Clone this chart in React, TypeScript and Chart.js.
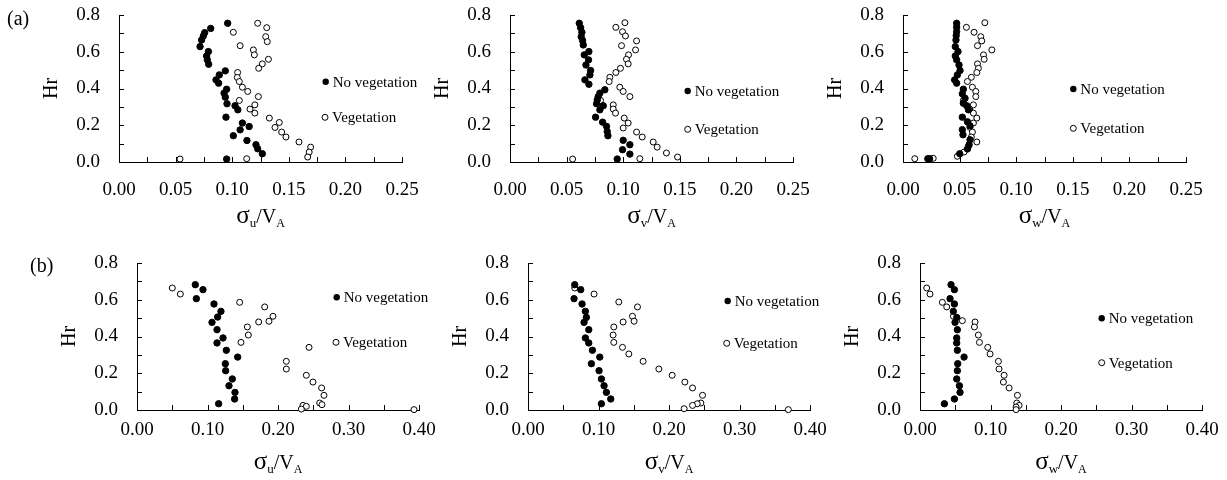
import React, { useEffect, useRef } from "react";
import { Chart, registerables } from "chart.js";

Chart.register(...registerables);

type Pt = [number, number];

// ---------- data (x = sigma/VA, y = Hr) ----------
const noVegU_a: Pt[] = [[0.096,0.755],[0.081,0.727],[0.0757,0.704],[0.0745,0.686],[0.073,0.664],[0.0716,0.628],[0.079,0.601],[0.0774,0.577],[0.078,0.556],[0.0792,0.532],[0.0939,0.496],[0.0886,0.474],[0.0857,0.447],[0.088,0.429],[0.0951,0.396],[0.0928,0.375],[0.0939,0.353],[0.0954,0.317],[0.1025,0.306],[0.105,0.284],[0.0945,0.244],[0.109,0.212],[0.115,0.193],[0.107,0.175],[0.101,0.143],[0.113,0.117],[0.121,0.094],[0.1225,0.072],[0.1266,0.045],[0.0951,0.016]];
const vegU_a: Pt[] = [[0.1225,0.755],[0.1305,0.731],[0.101,0.706],[0.1296,0.682],[0.131,0.655],[0.107,0.633],[0.1187,0.61],[0.1196,0.583],[0.132,0.559],[0.1266,0.534],[0.1234,0.51],[0.1048,0.487],[0.1045,0.46],[0.1063,0.438],[0.109,0.407],[0.1137,0.384],[0.1231,0.356],[0.1063,0.335],[0.12,0.311],[0.1157,0.288],[0.12,0.266],[0.1328,0.239],[0.1416,0.215],[0.1378,0.188],[0.1437,0.163],[0.1475,0.136],[0.159,0.109],[0.1693,0.081],[0.168,0.054],[0.1667,0.027],[0.0539,0.016],[0.1128,0.018]];

const noVegV_a: Pt[] = [[0.0612,0.755],[0.0624,0.731],[0.0635,0.706],[0.0629,0.682],[0.0641,0.661],[0.0647,0.637],[0.0697,0.601],[0.0656,0.583],[0.0694,0.556],[0.0671,0.528],[0.0712,0.498],[0.0706,0.474],[0.0662,0.447],[0.0697,0.423],[0.0838,0.393],[0.0794,0.375],[0.0779,0.356],[0.0771,0.338],[0.0765,0.317],[0.0824,0.306],[0.0794,0.284],[0.0756,0.244],[0.0818,0.217],[0.0853,0.194],[0.0859,0.166],[0.0865,0.143],[0.1,0.118],[0.1059,0.094],[0.0994,0.067],[0.1059,0.043],[0.0947,0.016]];
const vegV_a: Pt[] = [[0.1015,0.758],[0.0935,0.733],[0.0994,0.709],[0.102,0.686],[0.1118,0.659],[0.0985,0.633],[0.1109,0.61],[0.1047,0.583],[0.1029,0.559],[0.1044,0.534],[0.0976,0.51],[0.0935,0.487],[0.0882,0.461],[0.0876,0.438],[0.097,0.407],[0.1,0.384],[0.1059,0.356],[0.08,0.335],[0.0912,0.311],[0.0912,0.288],[0.0932,0.266],[0.1009,0.239],[0.1044,0.212],[0.1,0.185],[0.1118,0.163],[0.1168,0.136],[0.1265,0.109],[0.13,0.081],[0.1382,0.049],[0.148,0.027],[0.0553,0.016],[0.1147,0.018]];

const noVegW_a: Pt[] = [[0.0474,0.755],[0.0474,0.733],[0.0474,0.709],[0.047,0.688],[0.0468,0.664],[0.0462,0.628],[0.0486,0.601],[0.0462,0.577],[0.0474,0.556],[0.0495,0.528],[0.0504,0.498],[0.048,0.474],[0.0456,0.447],[0.0474,0.429],[0.0533,0.396],[0.0524,0.371],[0.0548,0.347],[0.0533,0.32],[0.0563,0.306],[0.0578,0.284],[0.0524,0.244],[0.0569,0.219],[0.0592,0.197],[0.0524,0.176],[0.053,0.148],[0.0592,0.121],[0.0584,0.094],[0.0569,0.071],[0.0501,0.045],[0.0219,0.018],[0.0235,0.018]];
const vegW_a: Pt[] = [[0.0723,0.758],[0.056,0.733],[0.0628,0.706],[0.0687,0.682],[0.0696,0.659],[0.0658,0.633],[0.0785,0.61],[0.0711,0.583],[0.0717,0.559],[0.0658,0.534],[0.0666,0.51],[0.0652,0.487],[0.0604,0.461],[0.0569,0.438],[0.0613,0.407],[0.0643,0.384],[0.0643,0.356],[0.0533,0.335],[0.0622,0.311],[0.0589,0.288],[0.0622,0.266],[0.0652,0.239],[0.0622,0.212],[0.0592,0.188],[0.0613,0.163],[0.0604,0.136],[0.0652,0.109],[0.0578,0.085],[0.0539,0.054],[0.048,0.031],[0.0104,0.018],[0.0267,0.02]];

const noVegU_b: Pt[] = [[0.0827,0.682],[0.0936,0.655],[0.0842,0.606],[0.1092,0.577],[0.1191,0.537],[0.1144,0.506],[0.1064,0.477],[0.1135,0.437],[0.122,0.392],[0.1135,0.365],[0.1267,0.325],[0.1428,0.288],[0.1253,0.252],[0.1258,0.214],[0.1352,0.169],[0.1305,0.132],[0.139,0.096],[0.1385,0.06],[0.1158,0.034]];
const vegU_b: Pt[] = [[0.0501,0.664],[0.0615,0.631],[0.1456,0.586],[0.1811,0.561],[0.1929,0.51],[0.1726,0.479],[0.1872,0.483],[0.1565,0.452],[0.1579,0.408],[0.1475,0.368],[0.244,0.341],[0.2118,0.265],[0.2118,0.223],[0.2402,0.189],[0.2496,0.152],[0.2619,0.12],[0.2652,0.08],[0.2591,0.038],[0.2624,0.029],[0.2355,0.025],[0.2402,0.02],[0.2331,0.005],[0.3929,0.002]];

const noVegV_b: Pt[] = [[0.0663,0.682],[0.0748,0.655],[0.0653,0.606],[0.0767,0.577],[0.0814,0.537],[0.0828,0.504],[0.0795,0.477],[0.0862,0.437],[0.0814,0.392],[0.0862,0.365],[0.0914,0.325],[0.1018,0.288],[0.0899,0.252],[0.1008,0.214],[0.1041,0.169],[0.1079,0.132],[0.1112,0.096],[0.1174,0.06],[0.1041,0.034]];
const vegV_b: Pt[] = [[0.0663,0.664],[0.0937,0.631],[0.1288,0.588],[0.1553,0.561],[0.1482,0.51],[0.1349,0.479],[0.1505,0.483],[0.1217,0.452],[0.1207,0.408],[0.1217,0.368],[0.134,0.341],[0.143,0.305],[0.1633,0.265],[0.1856,0.223],[0.2045,0.189],[0.2225,0.152],[0.2334,0.12],[0.2476,0.08],[0.2452,0.038],[0.24,0.034],[0.2334,0.025],[0.2215,0.007],[0.3692,0.002]];

const noVegW_b: Pt[] = [[0.044,0.682],[0.0488,0.655],[0.0426,0.606],[0.0488,0.577],[0.0473,0.537],[0.0521,0.504],[0.0497,0.477],[0.053,0.437],[0.0521,0.392],[0.0521,0.365],[0.053,0.325],[0.0625,0.288],[0.0535,0.252],[0.053,0.214],[0.0521,0.169],[0.0559,0.132],[0.0568,0.096],[0.0488,0.06],[0.0346,0.034]];
const vegW_b: Pt[] = [[0.0095,0.664],[0.0142,0.631],[0.0317,0.586],[0.0379,0.561],[0.0473,0.51],[0.0601,0.486],[0.0781,0.479],[0.0772,0.452],[0.0828,0.408],[0.0843,0.368],[0.0961,0.341],[0.0994,0.305],[0.1112,0.265],[0.1121,0.223],[0.1193,0.189],[0.1183,0.152],[0.1264,0.12],[0.1382,0.08],[0.1373,0.038],[0.1406,0.025],[0.1363,0.016],[0.1363,0.002]];

// ---------- labels ----------
const seriesLabels = ["No vegetation", "Vegetation"];
const yTickLabels = ["0.0", "0.2", "0.4", "0.6", "0.8"];
const xTickLabelsA = ["0.00", "0.05", "0.10", "0.15", "0.20", "0.25"];
const xTickLabelsB = ["0.00", "0.10", "0.20", "0.30", "0.40"];
const components = ["u", "v", "w"];

const FONT = '"Liberation Serif", "Times New Roman", serif';
const AXIS_W = 110;
const TOP_PAD = 15;

type Panel = {
  left: number; top: number; w: number; h: number;
  xMax: number; xStep: number; xLabelStep: number; xLabels: string[];
  comp: string; noVeg: Pt[]; veg: Pt[];
  legend: [number, number, number, number];
  tickPad: number; xH: number; titleOff: number; rightPad: number;
};

const rowA = { top: 15, h: 147, xMax: 0.25, xStep: 0.025, xLabelStep: 0.05, xLabels: xTickLabelsA, tickPad: 17, xH: 80, titleOff: 61 };
const rowB = { top: 263, h: 147, xMax: 0.4, xStep: 0.05, xLabelStep: 0.1, xLabels: xTickLabelsB, tickPad: 9, xH: 65, titleOff: 59 };

const panels: Panel[] = [
  { ...rowA, left: 119, w: 283, comp: components[0], noVeg: noVegU_a, veg: vegU_a, legend: [206.7, 66.7, 206, 102.3], rightPad: 40 },
  { ...rowA, left: 510, w: 283, comp: components[1], noVeg: noVegV_a, veg: vegV_a, legend: [177.7, 76, 177.7, 114.3], rightPad: 40 },
  { ...rowA, left: 903, w: 283, comp: components[2], noVeg: noVegW_a, veg: vegW_a, legend: [170.3, 74, 170.3, 113.3], rightPad: 30 },
  { ...rowB, left: 137, w: 282, comp: components[0], noVeg: noVegU_b, veg: vegU_b, legend: [199.7, 34.3, 199, 79.3], rightPad: 40 },
  { ...rowB, left: 528, w: 282, comp: components[1], noVeg: noVegV_b, veg: vegV_b, legend: [199.7, 38, 198.7, 80.3], rightPad: 40 },
  { ...rowB, left: 920, w: 282, comp: components[2], noVeg: noVegW_b, veg: vegW_b, legend: [181.7, 55.3, 181.7, 99.7], rightPad: 25 },
];

function labelFor(v: number, step: number, labels: string[]): string {
  const i = Math.round(v / step);
  if (Math.abs(v - i * step) > 1e-6) return "";
  return labels[i] ?? "";
}

function PanelChart({ p }: { p: Panel }) {
  const ref = useRef<HTMLCanvasElement | null>(null);
  const width = AXIS_W + p.w + p.rightPad;
  const height = TOP_PAD + p.h + p.xH;

  useEffect(() => {
    if (!ref.current) return;
    const decor = {
      id: "decor",
      afterDraw(chart: any) {
        const { ctx, chartArea: a } = chart;
        const xs = chart.scales.x;
        const ys = chart.scales.y;
        ctx.save();
        ctx.strokeStyle = "#000";
        ctx.lineWidth = 1;
        ctx.beginPath();
        xs.ticks.forEach((t: any) => {
          const px = Math.round(xs.getPixelForValue(t.value)) + 0.5;
          ctx.moveTo(px, a.bottom);
          ctx.lineTo(px, a.bottom - 5);
        });
        ys.ticks.forEach((t: any) => {
          const py = Math.round(ys.getPixelForValue(t.value)) + 0.5;
          ctx.moveTo(a.left, py);
          ctx.lineTo(a.left + 5, py);
        });
        ctx.stroke();

        // legend
        const [lx1, ly1, lx2, ly2] = p.legend;
        ctx.font = `15px ${FONT}`;
        ctx.textBaseline = "middle";
        ctx.textAlign = "left";
        ctx.fillStyle = "#000";
        ctx.beginPath();
        ctx.arc(a.left + lx1, a.top + ly1, 3.2, 0, Math.PI * 2);
        ctx.fill();
        ctx.fillText(seriesLabels[0], a.left + lx1 + 7, a.top + ly1 + 1);
        ctx.beginPath();
        ctx.arc(a.left + lx2, a.top + ly2, 3, 0, Math.PI * 2);
        ctx.fillStyle = "#fff";
        ctx.fill();
        ctx.stroke();
        ctx.fillStyle = "#000";
        ctx.fillText(seriesLabels[1], a.left + lx2 + 7, a.top + ly2 + 1);

        // x-axis title with subscripts
        const parts = [
          { t: "\u03c3", size: 25, dy: 0 },
          { t: p.comp, size: 13, dy: 4 },
          { t: "/V", size: 20, dy: 0 },
          { t: "A", size: 12, dy: 4 },
        ];
        ctx.textBaseline = "alphabetic";
        let total = 0;
        const widths = parts.map((pt) => {
          ctx.font = `${pt.size}px ${FONT}`;
          const w = ctx.measureText(pt.t).width;
          total += w;
          return w;
        });
        let x = (a.left + a.right) / 2 - total / 2;
        const base = a.bottom + p.titleOff;
        parts.forEach((pt, i) => {
          ctx.font = `${pt.size}px ${FONT}`;
          ctx.fillText(pt.t, x, base + pt.dy);
          x += widths[i];
        });
        ctx.restore();
      },
    };

    const chart = new Chart(ref.current, {
      type: "scatter",
      data: {
        datasets: [
          {
            label: seriesLabels[0],
            data: p.noVeg.map(([x, y]) => ({ x, y })),
            pointRadius: 3.2,
            pointBackgroundColor: "#000",
            pointBorderColor: "#000",
            pointBorderWidth: 1,
            clip: false as any,
          },
          {
            label: seriesLabels[1],
            data: p.veg.map(([x, y]) => ({ x, y })),
            pointRadius: 3,
            pointBackgroundColor: "#fff",
            pointBorderColor: "#000",
            pointBorderWidth: 1,
            clip: false as any,
          },
        ],
      },
      options: {
        responsive: false,
        animation: false,
        layout: { padding: { left: 0, top: TOP_PAD, right: p.rightPad, bottom: 0 } },
        plugins: { legend: { display: false }, tooltip: { enabled: false } },
        scales: {
          x: {
            type: "linear",
            min: 0,
            max: p.xMax,
            grid: { display: false, drawTicks: true, tickLength: p.tickPad },
            border: { display: true, color: "#000", width: 1 },
            ticks: {
              stepSize: p.xStep,
              autoSkip: false,
              maxRotation: 0,
              padding: 0,
              color: "#000",
              font: { family: FONT, size: 19 },
              callback: (v: any) => labelFor(Number(v), p.xLabelStep, p.xLabels),
            },
            afterFit: (s: any) => { s.height = p.xH; },
          },
          y: {
            type: "linear",
            min: 0,
            max: 0.8,
            grid: { display: false, drawTicks: true, tickLength: 19 },
            border: { display: true, color: "#000", width: 1 },
            ticks: {
              stepSize: 0.1,
              autoSkip: false,
              padding: 0,
              color: "#000",
              font: { family: FONT, size: 19 },
              callback: (v: any) => labelFor(Number(v), 0.2, yTickLabels),
            },
            title: {
              display: true,
              text: "Hr",
              color: "#000",
              font: { family: FONT, size: 20 },
              padding: { top: 31, bottom: 0 },
            },
            afterFit: (s: any) => { s.width = AXIS_W; },
          },
        },
      },
      plugins: [decor],
    });
    return () => chart.destroy();
  }, [p]);

  return (
    <canvas
      ref={ref}
      width={width}
      height={height}
      style={{ position: "absolute", left: p.left - AXIS_W, top: p.top - TOP_PAD, width, height, display: "block" }}
    />
  );
}

export default function App() {
  const tag: React.CSSProperties = { position: "absolute", fontFamily: FONT, fontSize: 20, lineHeight: "20px", color: "#000" };
  return (
    <div style={{ position: "absolute", left: 0, top: 0, width: 1227, height: 480, overflow: "hidden", background: "#fff" }}>
      {panels.map((p, i) => (
        <PanelChart key={i} p={p} />
      ))}
      <span style={{ ...tag, left: 7, top: 8 }}>(a)</span>
      <span style={{ ...tag, left: 30, top: 255 }}>(b)</span>
    </div>
  );
}
